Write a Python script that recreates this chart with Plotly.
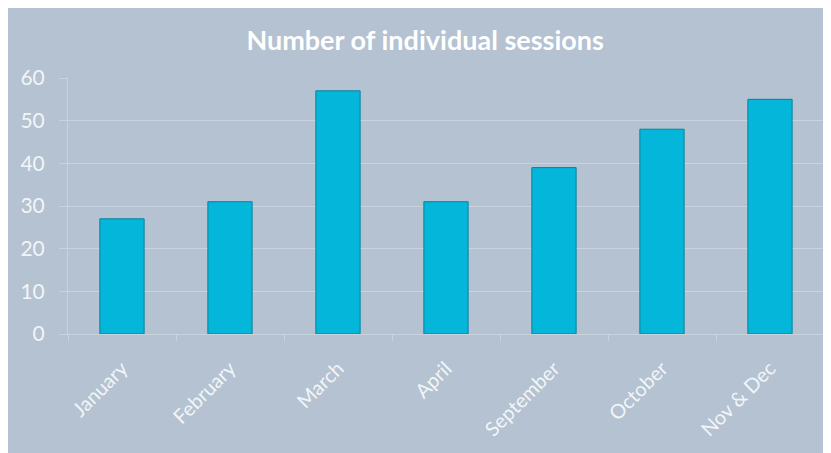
import plotly.graph_objects as go

months = ["January", "February", "March", "April", "September", "October", "Nov & Dec"]
sessions = [27, 31, 57, 31, 39, 48, 55]
y_ticks = [0, 10, 20, 30, 40, 50, 60]
title_text = "Number of individual sessions"

BG = "#b4c2d1"
GRID = "#c9d2dd"
TXT = "#f2f5f8"
FONT = "Lato"

fig = go.Figure(
    go.Bar(
        x=months,
        y=sessions,
        marker=dict(color="#04b6d9", line=dict(color="#0a819b", width=1)),
        hoverinfo="x+y",
    )
)

fig.update_layout(
    width=831,
    height=453,
    paper_bgcolor=BG,
    plot_bgcolor=BG,
    margin=dict(l=58, r=15, t=70, b=127),
    bargap=0.59,
    showlegend=False,
    title=dict(
        text=title_text,
        x=0.502,
        xref="container",
        xanchor="center",
        y=0.929,
        yref="container",
        yanchor="middle",
        font=dict(family=FONT, size=27, color="white", weight="bold"),
    ),
    font=dict(family=FONT, color=TXT),
)

fig.update_xaxes(
    type="category",
    tickson="boundaries",
    ticks="outside",
    ticklen=6,
    tickcolor=GRID,
    showline=True,
    linecolor=GRID,
    linewidth=1,
    showgrid=False,
    tickangle=-45,
    ticklabelstandoff=14,
    tickfont=dict(family=FONT, size=20, color=TXT),
    range=[-0.5, len(months) - 0.5],
)

fig.update_yaxes(
    range=[0, 60],
    tickvals=y_ticks,
    ticks="outside",
    ticklen=8,
    tickcolor=GRID,
    showgrid=True,
    gridcolor=GRID,
    gridwidth=1,
    zeroline=False,
    showline=True,
    linecolor=GRID,
    ticklabelstandoff=10,
    tickfont=dict(family=FONT, size=21, color=TXT),
)

fig.write_html("out.html")
